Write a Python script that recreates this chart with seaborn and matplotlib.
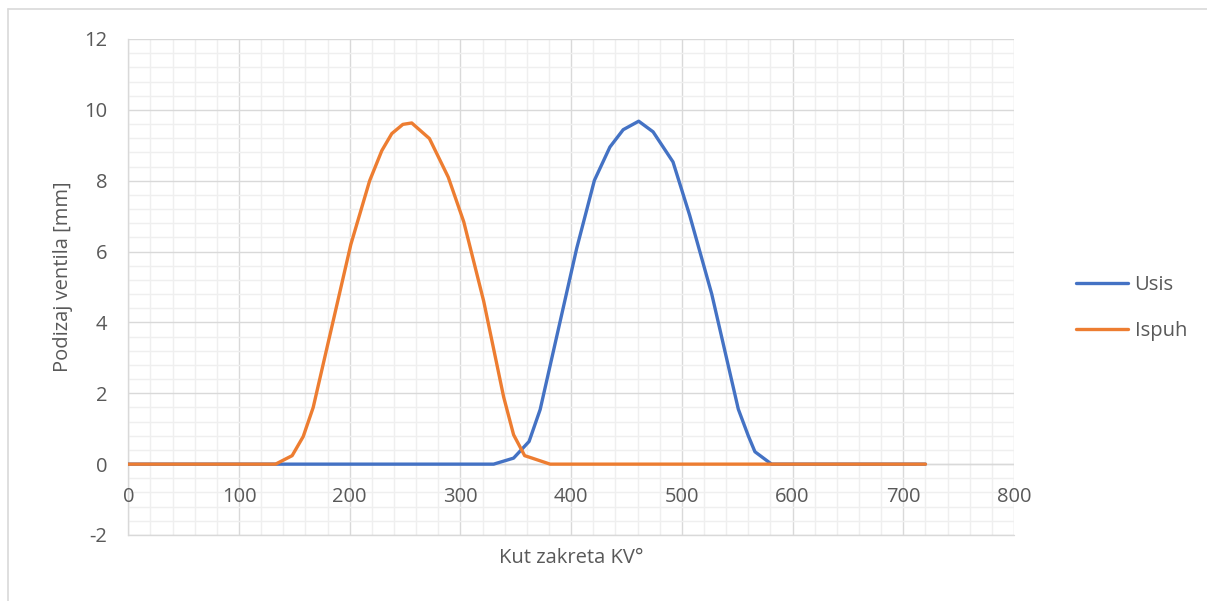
import pandas as pd
import numpy as np
import seaborn as sns
import matplotlib.pyplot as plt
from matplotlib.ticker import MultipleLocator
from matplotlib.lines import Line2D

# Usis (intake) valve lift
usis_kut = [0, 330, 348, 362, 372, 405, 421, 435, 447, 461, 474, 492, 507, 527, 551, 560, 566, 581, 720]
usis_podizaj = [0, 0, 0.17, 0.64, 1.54, 6.09, 8.01, 8.95, 9.44, 9.68, 9.38, 8.53, 7.03, 4.8, 1.55, 0.8, 0.35, 0, 0]

# Ispuh (exhaust) valve lift
ispuh_kut = [0, 133, 148, 158, 167, 201, 218, 229, 238, 248, 256, 272, 289, 303, 321, 339, 348, 358, 381, 720]
ispuh_podizaj = [0, 0, 0.24, 0.78, 1.6, 6.2, 8.0, 8.85, 9.33, 9.59, 9.63, 9.19, 8.1, 6.84, 4.6, 1.9, 0.83, 0.24, 0, 0]

df = pd.concat([
    pd.DataFrame({'kut': usis_kut, 'podizaj': usis_podizaj, 'ventil': 'Usis'}),
    pd.DataFrame({'kut': ispuh_kut, 'podizaj': ispuh_podizaj, 'ventil': 'Ispuh'}),
])

sns.set_theme(style="white")
plt.rcParams['font.family'] = ['Open Sans', 'DejaVu Sans']
plt.rcParams['axes.unicode_minus'] = False
txt = '#595959'
grid_major = '#D9D9D9'
grid_minor = '#EFEFEF'
fs = 14.5

fig = plt.figure(figsize=(12.07, 6.01), dpi=100)
ax = fig.add_axes([128.3 / 1207, 66 / 601, (1014 - 128.3) / 1207, (535 - 39) / 601])

sns.lineplot(data=df, x='kut', y='podizaj', hue='ventil', sort=False, estimator=None,
             palette={'Usis': '#4472C4', 'Ispuh': '#ED7D31'}, linewidth=2.4, ax=ax,
             legend=False, zorder=5)

ax.set_xlim(0, 800)
ax.set_ylim(-2, 12)
ax.xaxis.set_major_locator(MultipleLocator(100))
ax.xaxis.set_minor_locator(MultipleLocator(20))
ax.yaxis.set_major_locator(MultipleLocator(2))
ax.yaxis.set_minor_locator(MultipleLocator(0.4))
ax.grid(which='minor', color=grid_minor, linewidth=1.0, zorder=0)
ax.grid(which='major', color=grid_major, linewidth=1.0, zorder=1)
ax.set_axisbelow(True)

for s in ['top', 'right', 'bottom']:
    ax.spines[s].set_visible(False)
ax.spines['left'].set_color(grid_major)
ax.spines['left'].set_linewidth(1.0)
# horizontal axis crosses at 0
ax.axhline(0, color=grid_major, linewidth=1.0, zorder=2)
ax.axhline(-2, color=grid_major, linewidth=1.0, zorder=2, clip_on=False)

ax.tick_params(axis='y', which='major', length=5, color=grid_major, pad=10,
               labelsize=fs, labelcolor=txt)
ax.tick_params(axis='x', which='major', length=0, pad=0, labelsize=fs, labelcolor=txt)
ax.tick_params(which='minor', length=0)
ax.set_xticks(np.arange(0, 801, 100))
ax.set_xticklabels([])
for v in range(0, 801, 100):
    ax.text(v, -0.92, str(v), ha='center', va='center', fontsize=fs, color=txt)

ax.set_xlabel('Kut zakreta KV°', fontsize=fs, color=txt)
ax.xaxis.set_label_coords(0.5, -0.046)
ax.xaxis.label.set_va('center')
ax.set_ylabel('Podizaj ventila [mm]', fontsize=fs, color=txt)
ax.yaxis.label.set_va('center')
ax.yaxis.set_label_coords(-(128.3 - 63) / (1014 - 128.3), 0.52)

handles = [Line2D([], [], color='#4472C4', linewidth=2.4),
           Line2D([], [], color='#ED7D31', linewidth=2.4)]
fig.legend(handles, ['Usis', 'Ispuh'], loc='center left', bbox_to_anchor=(1058 / 1207, 1 - 308 / 601),
           frameon=False, fontsize=fs, labelcolor=txt, handlelength=2.6,
           handletextpad=0.3, labelspacing=1.25)

# outer chart border
fig.add_artist(Line2D([8 / 1207, 1], [1 - 9 / 601, 1 - 9 / 601], color=grid_major, linewidth=1.2))
fig.add_artist(Line2D([8 / 1207, 8 / 1207], [0, 1 - 9 / 601], color=grid_major, linewidth=1.2))

fig.savefig('out.png', dpi=100)
